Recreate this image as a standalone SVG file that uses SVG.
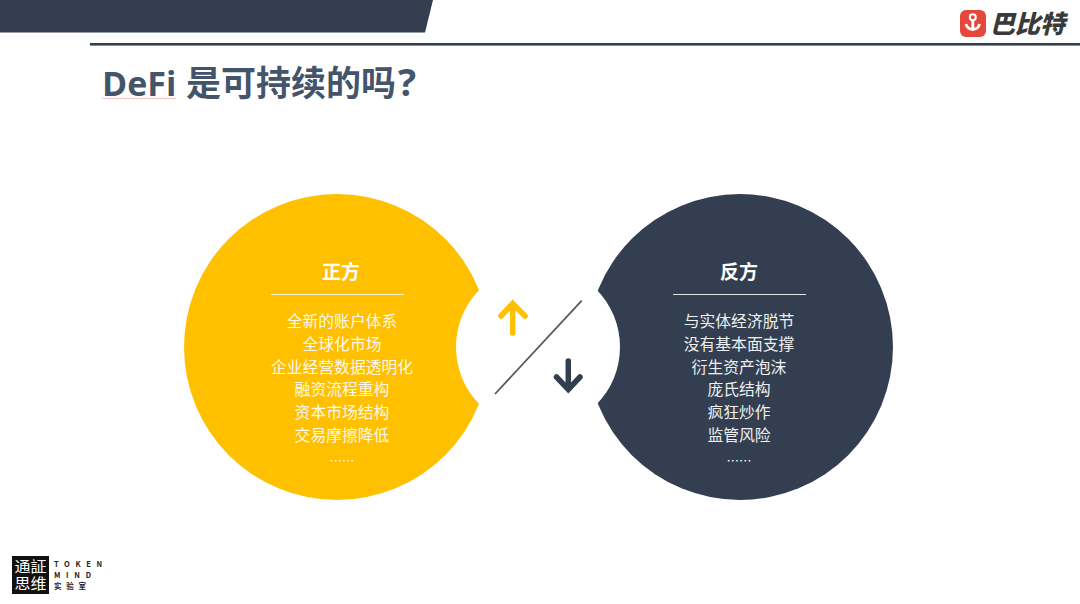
<svg xmlns="http://www.w3.org/2000/svg" width="1080" height="604" viewBox="0 0 1080 604">
<style>
text{font-family:"Noto Sans CJK SC","Noto Sans",sans-serif}
.t{font-size:15.800px;fill:#fff;text-anchor:middle;font-weight:400;opacity:.92}
.e{font-size:12.500px;fill:#fff;text-anchor:middle}
.h{font-size:19px;fill:#fff;text-anchor:middle;font-weight:700}
.a{fill:none;stroke-width:5.500;stroke-linecap:round;stroke-linejoin:miter}
</style>
<rect width="1080" height="604" fill="#fff"/>
<g id="header">
<path d="M0 0H433L425 32.500H0Z" fill="#333F50"/>
<rect x="90" y="43" width="990" height="2.600" fill="#333F50"/>
<text y="96" font-size="34" font-weight="700" fill="#44546A" style="font-family:'Open Sans','Noto Sans CJK SC',sans-serif"><tspan x="102">DeFi</tspan><tspan x="186" font-size="35">是可持续的吗</tspan><tspan x="398" font-size="38">?</tspan></text>
<path d="M102 98.500q1 -1 2 0t2 0t2 0t2 0t2 0t2 0t2 0t2 0t2 0t2 0t2 0t2 0t2 0t2 0t2 0t2 0t2 0t2 0t2 0t2 0t2 0t2 0t2 0t2 0t2 0t2 0t2 0t2 0t2 0t2 0t2 0t2 0t2 0t2 0t2 0t2 0t2 0" fill="none" stroke="#f3a0a0" stroke-width=".7"/>
</g>
<g id="logo">
<rect x="960" y="10" width="26" height="27" rx="6" fill="#E5483B"/>
<circle cx="972.800" cy="17.300" r="3" fill="none" stroke="#fff" stroke-width="2"/>
<path d="M972.800 20.500V31M966 24a7 7 0 0 0 13.600 0" fill="none" stroke="#fff" stroke-width="2.800"/>
<text x="990" y="33" font-size="25" font-weight="900" font-style="italic" fill="#3A3A3A" textLength="75" lengthAdjust="spacingAndGlyphs">巴比特</text>
</g>
<g id="node-pro">
<circle cx="337" cy="347" r="153" fill="#FFC000"/>
</g>
<g id="node-con">
<circle cx="740" cy="347" r="153" fill="#333F50"/>
</g>
<g id="centre">
<circle cx="538" cy="347" r="82" fill="#fff"/>
</g>
<g id="pro-text">
<text class="h" x="341" y="279">正方</text>
<rect x="271" y="294" width="133" height="1" fill="#fff" opacity=".85"/>
<text class="t" x="342" y="327">全新的账户体系</text>
<text class="t" x="342" y="350">全球化市场</text>
<text class="t" x="342" y="373">企业经营数据透明化</text>
<text class="t" x="342" y="395">融资流程重构</text>
<text class="t" x="342" y="418">资本市场结构</text>
<text class="t" x="342" y="441">交易摩擦降低</text>
<text class="e" x="342" y="466">……</text>
</g>
<g id="con-text">
<text class="h" x="739" y="279">反方</text>
<rect x="673" y="294" width="133" height="1" fill="#fff" opacity=".85"/>
<text class="t" x="739" y="327">与实体经济脱节</text>
<text class="t" x="739" y="350">没有基本面支撑</text>
<text class="t" x="739" y="373">衍生资产泡沫</text>
<text class="t" x="739" y="395">庞氏结构</text>
<text class="t" x="739" y="418">疯狂炒作</text>
<text class="t" x="739" y="441">监管风险</text>
<text class="e" x="739" y="466">……</text>
</g>
<g id="connectors">
<path d="M581.700 300.700L495 394" stroke="#595959" stroke-width="1.800" fill="none"/>
<path class="a" stroke="#FFC000" d="M512.700 333V304M501 316L512.700 303.500L525 316"/>
<path class="a" stroke="#333F50" d="M568.300 361V389M556.500 377L568.300 389.500L580 377"/>
</g>
<g id="tokenmind">
<rect x="12" y="556" width="37" height="38" fill="#111"/>
<text x="30.500" y="571.500" font-size="15" fill="#fff" text-anchor="middle" textLength="32" lengthAdjust="spacingAndGlyphs">通証</text>
<text x="30.500" y="589" font-size="15" fill="#fff" text-anchor="middle" textLength="32" lengthAdjust="spacingAndGlyphs">思维</text>
<text x="54" y="567" font-size="7.500" font-weight="700" fill="#222" textLength="48">TOKEN</text>
<text x="54" y="578" font-size="7.500" font-weight="700" fill="#222" textLength="37">MIND</text>
<text x="54" y="589" font-size="7.500" fill="#222" font-weight="700" textLength="32">实验室</text>
</g>
</svg>
